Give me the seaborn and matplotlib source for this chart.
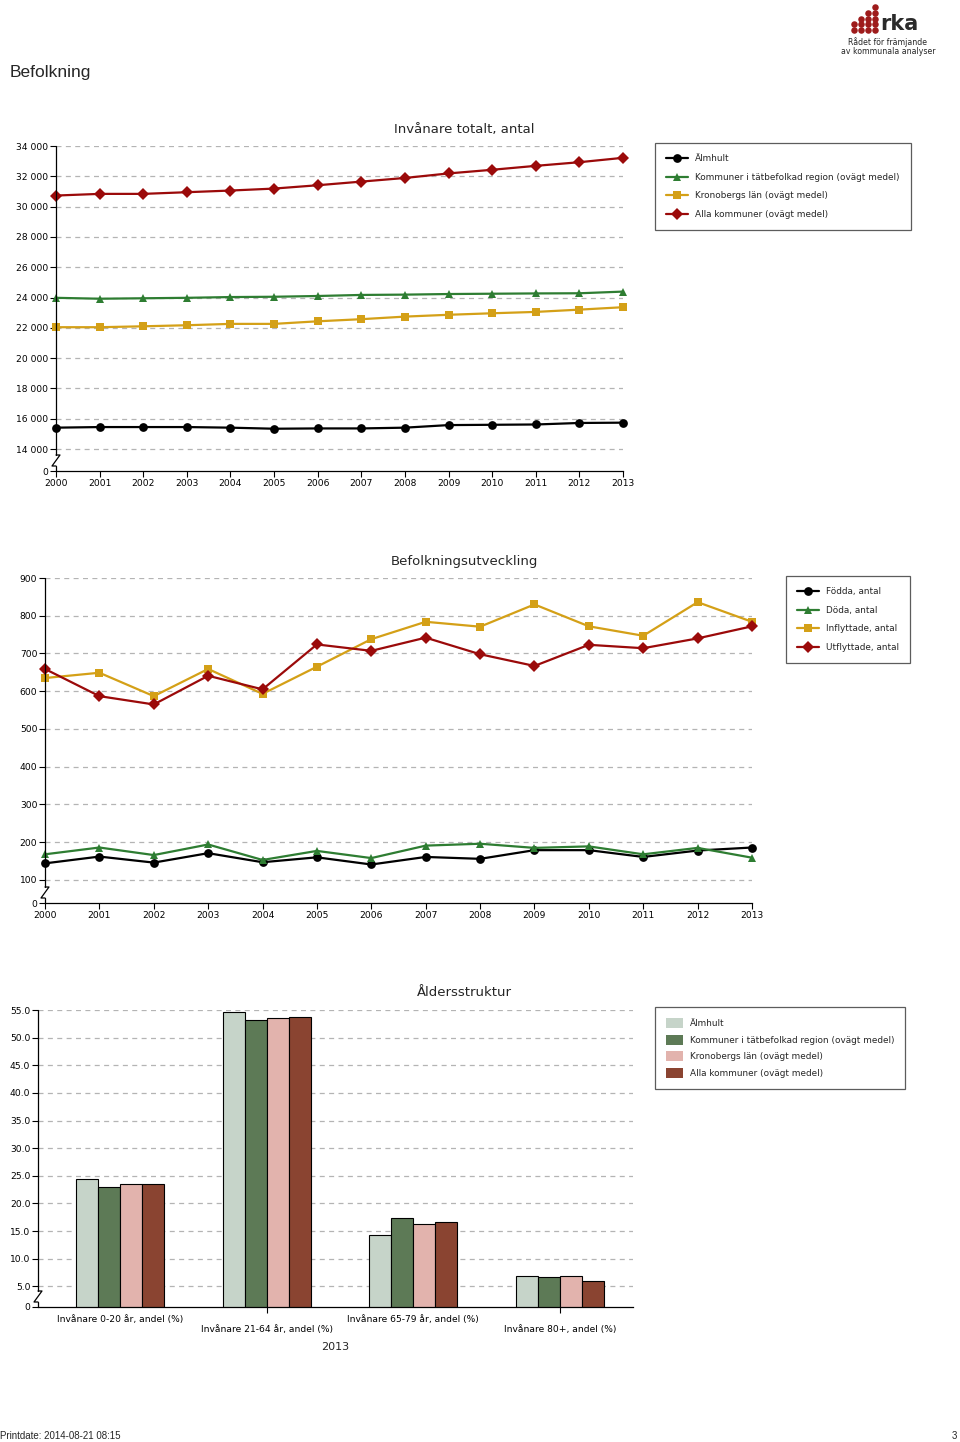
import numpy as np
import pandas as pd
import matplotlib
matplotlib.use('Agg')
import matplotlib.pyplot as plt
from matplotlib.patches import Patch
import seaborn as sns

# ---- data ----
years = list(range(2000, 2014))
series_names = ["Älmhult", "Kommuner i tätbefolkad region (ovägt medel)",
                "Kronobergs län (ovägt medel)", "Alla kommuner (ovägt medel)"]

# Invånare totalt, antal
almhult_tot = [15410, 15450, 15450, 15450, 15410, 15340, 15360, 15360, 15410, 15580, 15600, 15620, 15720, 15740]
tatbef_tot = [23980, 23920, 23950, 23980, 24030, 24050, 24100, 24170, 24190, 24230, 24250, 24270, 24280, 24390]
kronoberg_tot = [22040, 22040, 22100, 22170, 22260, 22260, 22430, 22570, 22740, 22860, 22960, 23050, 23200, 23360]
alla_tot = [30730, 30840, 30840, 30950, 31060, 31190, 31410, 31650, 31890, 32190, 32430, 32690, 32930, 33220]

# Befolkningsutveckling
flow_names = ["Födda, antal", "Döda, antal", "Inflyttade, antal", "Utflyttade, antal"]
fodda = [144, 162, 146, 171, 147, 160, 141, 161, 156, 179, 179, 161, 178, 186]
doda = [168, 186, 166, 194, 153, 177, 158, 191, 196, 185, 189, 168, 185, 159]
inflyttade = [635, 649, 587, 659, 593, 665, 738, 784, 771, 830, 772, 747, 836, 784]
utflyttade = [659, 587, 565, 641, 605, 724, 707, 742, 698, 667, 723, 714, 740, 772]

# Åldersstruktur 2013
age_groups = ["Invånare 0-20 år, andel (%)", "Invånare 21-64 år, andel (%)",
              "Invånare 65-79 år, andel (%)", "Invånare 80+, andel (%)"]
almhult_age = [24.5, 54.6, 14.3, 6.8]
tatbef_age = [22.9, 53.2, 17.4, 6.6]
kronoberg_age = [23.6, 53.5, 16.2, 6.8]
alla_age = [23.6, 53.7, 16.7, 6.0]

tot_ticks = list(range(14000, 34001, 2000))
flow_ticks = list(range(100, 901, 100))
age_ticks = [5.0 * i for i in range(1, 12)]

line_colors = ["#000000", "#2e7d32", "#d4a017", "#9b0a0a"]
line_markers = ["o", "^", "s", "D"]
bar_colors = ["#c6d4c9", "#5d7a56", "#e2b3ad", "#8a4431"]
logo_cols = [2, 3, 4, 5]

W, H = 960, 1442
sns.set_theme(style="white")
plt.rcParams['font.family'] = ['DejaVu Sans']

fig = plt.figure(figsize=(W / 100, H / 100), dpi=100)


def rect(x0, y_top, x1, y_bot):
    return [x0 / W, 1 - y_bot / H, (x1 - x0) / W, (y_bot - y_top) / H]


def style_axes(ax, ticks, labels, ybottom, w_px, h_px):
    sns.despine(ax=ax)
    ax.set_ylim(ybottom, ticks[-1])
    ax.set_yticks([ybottom] + list(ticks))
    ax.set_yticklabels(["0"] + labels)
    for t in ticks:
        ax.axhline(t, color="#b4b4b4", lw=0.9, ls=(0, (4, 3.5)), zorder=0)
    ax.tick_params(axis="both", which="both", direction="out", length=4, width=0.8,
                   colors="black", labelsize=6.6, pad=1.5, left=True, bottom=True)
    ax.spines["bottom"].set_color("black")
    ax.spines["bottom"].set_linewidth(0.9)
    ax.spines["left"].set_visible(False)
    # broken y axis
    y1 = 16 / h_px
    y2 = 5 / h_px
    dx = 4 / w_px
    kw = dict(transform=ax.transAxes, color="black", lw=0.9, clip_on=False, zorder=5)
    ax.plot([0, 0], [1, y1], **kw)
    ax.plot([0, dx, -dx, 0], [y1, y1, y2, y2], **kw)
    ax.plot([0, 0], [y2, 0], **kw)
    ax.set_xlabel("")
    ax.set_ylabel("")


def box_legend(handles, labels, x_px, y_px, hl=2.5, hh=0.7, ls=1.08):
    leg = fig.legend(handles, labels, loc="upper left",
                     bbox_to_anchor=(x_px / W, 1 - y_px / H), frameon=True,
                     fancybox=False, edgecolor="#333333", fontsize=6.4,
                     borderpad=1.25, labelspacing=ls, handlelength=hl,
                     handleheight=hh, handletextpad=0.75, borderaxespad=0)
    leg.get_frame().set_linewidth(0.9)
    return leg


# ---- chart 1: Invånare totalt ----
df_tot = pd.DataFrame({"year": years * 4,
                       "value": almhult_tot + tatbef_tot + kronoberg_tot + alla_tot,
                       "series": np.repeat(series_names, len(years))})
ax1 = fig.add_axes(rect(56, 146, 623, 471))
sns.lineplot(data=df_tot, x="year", y="value", hue="series", style="series",
             palette=dict(zip(series_names, line_colors)),
             markers=dict(zip(series_names, line_markers)), dashes=False,
             markersize=6.3, markeredgewidth=0, linewidth=1.6, ax=ax1)
h, l = ax1.get_legend_handles_labels()
ax1.get_legend().remove()
ax1.set_xlim(2000, 2013)
ax1.set_xticks(years)
style_axes(ax1, tot_ticks, [f"{t:,}".replace(",", " ") for t in tot_ticks],
           12550, 567, 325)
for ln in ax1.lines[:4]:
    ln.set_clip_on(False)
box_legend(h, l, 655, 143)
fig.text(464 / W, 1 - 129 / H, "Invånare totalt, antal", ha="center", va="center", fontsize=9.5)

# ---- chart 2: Befolkningsutveckling ----
df_flow = pd.DataFrame({"year": years * 4,
                        "value": fodda + doda + inflyttade + utflyttade,
                        "series": np.repeat(flow_names, len(years))})
ax2 = fig.add_axes(rect(45, 578, 752, 903))
sns.lineplot(data=df_flow, x="year", y="value", hue="series", style="series",
             palette=dict(zip(flow_names, line_colors)),
             markers=dict(zip(flow_names, line_markers)), dashes=False,
             markersize=6.3, markeredgewidth=0, linewidth=1.6, ax=ax2)
h, l = ax2.get_legend_handles_labels()
ax2.get_legend().remove()
ax2.set_xlim(2000, 2013)
ax2.set_xticks(years)
style_axes(ax2, flow_ticks, [str(t) for t in flow_ticks], 39, 707, 325)
for ln in ax2.lines[:4]:
    ln.set_clip_on(False)
box_legend(h, l, 786, 576)
fig.text(464 / W, 1 - 561 / H, "Befolkningsutveckling", ha="center", va="center", fontsize=9.5)

# ---- chart 3: Åldersstruktur ----
df_age = pd.DataFrame({"group": age_groups * 4,
                       "value": almhult_age + tatbef_age + kronoberg_age + alla_age,
                       "series": np.repeat(series_names, len(age_groups))})
ax3 = fig.add_axes(rect(38, 1010, 633, 1307))
sns.barplot(data=df_age, x="group", y="value", hue="series",
            palette=dict(zip(series_names, bar_colors)), width=0.6,
            edgecolor="black", linewidth=0.8, saturation=1, legend=False, ax=ax3)
style_axes(ax3, age_ticks, [f"{t:.1f}" for t in age_ticks], 1.25, 595, 297)
ax3.set_xlim(-0.56, 3.5)
ax3.set_xticks(range(len(age_groups)))
ax3.set_xticklabels([g if i % 2 == 0 else "\n" + g for i, g in enumerate(age_groups)])
for i, tl in enumerate(ax3.xaxis.get_ticklines()):
    if (i // 2) % 2 == 0:
        tl.set_visible(False)
ax3.set_xlabel("2013", fontsize=8, labelpad=6)
bar_handles = [Patch(facecolor=c, edgecolor="none") for c in bar_colors]
box_legend(bar_handles, series_names, 655, 1007, hl=1.9, hh=1.35, ls=0.75)
fig.text(464 / W, 1 - 993 / H, "Åldersstruktur", ha="center", va="center", fontsize=9.5)

# ---- page texts ----
fig.text(10 / W, 1 - 73 / H, "Befolkning", ha="left", va="center", fontsize=12.5,
         family=["Liberation Sans", "DejaVu Sans"])
fig.text(0, 1 - 1436 / H, "Printdate: 2014-08-21 08:15", ha="left", va="center",
         fontsize=7, family=["Liberation Sans", "DejaVu Sans"])
fig.text(957 / W, 1 - 1436 / H, "3", ha="right", va="center", fontsize=7,
         family=["Liberation Sans", "DejaVu Sans"])

# logo
lax = fig.add_axes(rect(850, 4, 879, 33))
for ci, n in enumerate(logo_cols):
    lax.scatter([ci] * n, list(range(n)), s=22, color="#9e1b1b", lw=0)
lax.set_xlim(-0.6, 3.6)
lax.set_ylim(-0.6, 4.6)
lax.axis("off")
fig.text(880 / W, 1 - 24 / H, "rka", ha="left", va="center", fontsize=15,
         fontweight="bold", color="#2b2b2b")
fig.text(888 / W, 1 - 42 / H, "Rådet för främjande", ha="center", va="center", fontsize=5.6)
fig.text(888 / W, 1 - 51 / H, "av kommunala analyser", ha="center", va="center", fontsize=5.6)

fig.savefig("out.png", dpi=100)
